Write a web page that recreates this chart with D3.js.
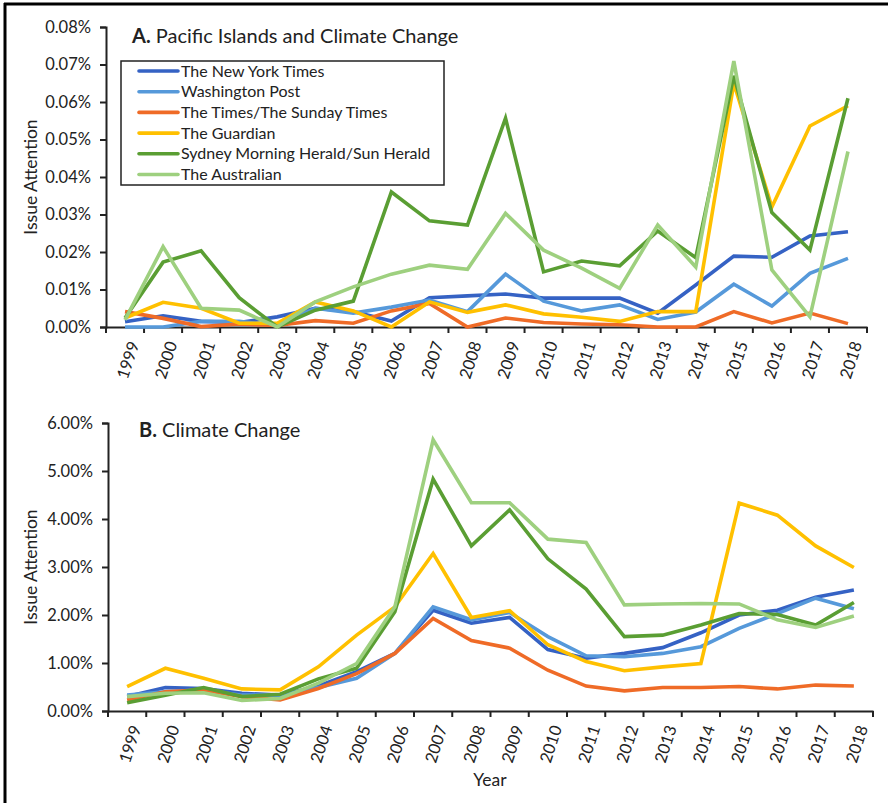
<!DOCTYPE html>
<html>
<head>
<meta charset="utf-8">
<script src="https://cdn.jsdelivr.net/npm/d3@7"></script>
<style>
body{margin:0;background:#fff;}
text{font-family:Lato,"Open Sans",sans-serif;fill:#222;}
</style>
</head>
<body>
<div id="chart"></div>
<script>
var years = ["1999","2000","2001","2002","2003","2004","2005","2006","2007","2008","2009","2010","2011","2012","2013","2014","2015","2016","2017","2018"];
var papers = ["The New York Times","Washington Post","The Times/The Sunday Times","The Guardian","Sydney Morning Herald/Sun Herald","The Australian"];
var colors = ["#3562C4","#5699DA","#EF6B27","#FFC000","#5A9E33","#9ED07F"];

// A. Pacific Islands and Climate Change (percent)
var pacNYT = [0.0014,0.0030,0.0015,0.0012,0.0027,0.0050,0.0041,0.0016,0.0078,0.0083,0.0088,0.0077,0.0077,0.0077,0.0037,0.0112,0.0189,0.0186,0.0243,0.0254];
var pacWaPo = [0.0000,0.0000,0.0015,0.0015,0.0004,0.0050,0.0037,0.0053,0.0072,0.0041,0.0141,0.0069,0.0043,0.0059,0.0020,0.0040,0.0114,0.0056,0.0143,0.0183];
var pacTimes = [0.0041,0.0023,0.0001,0.0008,0.0004,0.0017,0.0010,0.0043,0.0063,0.0000,0.0024,0.0012,0.0008,0.0006,0.0000,0.0000,0.0041,0.0011,0.0037,0.0009];
var pacGuardian = [0.0024,0.0066,0.0050,0.0010,0.0010,0.0067,0.0043,0.0000,0.0067,0.0039,0.0059,0.0035,0.0026,0.0015,0.0041,0.0041,0.0650,0.0320,0.0536,0.0590];
var pacSMH = [0.0024,0.0173,0.0203,0.0078,0.0000,0.0045,0.0069,0.0360,0.0283,0.0272,0.0557,0.0147,0.0176,0.0163,0.0256,0.0185,0.0670,0.0305,0.0205,0.0610];
var pacAus = [0.0019,0.0214,0.0050,0.0045,0.0000,0.0067,0.0107,0.0141,0.0165,0.0154,0.0303,0.0205,0.0157,0.0103,0.0272,0.0160,0.0709,0.0152,0.0027,0.0468];

// B. Climate Change (percent)
var ccNYT = [0.30,0.49,0.47,0.37,0.33,0.52,0.82,1.20,2.10,1.83,1.95,1.28,1.10,1.20,1.32,1.63,2.00,2.10,2.37,2.52];
var ccWaPo = [0.33,0.40,0.44,0.33,0.33,0.49,0.68,1.20,2.17,1.90,2.05,1.55,1.15,1.13,1.20,1.34,1.72,2.03,2.35,2.13];
var ccTimes = [0.23,0.40,0.44,0.30,0.23,0.47,0.78,1.20,1.93,1.47,1.31,0.85,0.52,0.42,0.49,0.49,0.51,0.46,0.54,0.52];
var ccGuardian = [0.51,0.89,0.68,0.46,0.44,0.92,1.58,2.17,3.28,1.95,2.09,1.38,1.03,0.84,0.92,0.99,4.33,4.08,3.44,2.99];
var ccSMH = [0.17,0.33,0.49,0.30,0.35,0.67,0.89,2.07,4.83,3.44,4.19,3.17,2.54,1.55,1.58,1.79,2.03,2.01,1.79,2.26];
var ccAus = [0.30,0.37,0.38,0.22,0.26,0.58,0.99,2.17,5.65,4.34,4.34,3.58,3.51,2.21,2.23,2.24,2.23,1.90,1.74,1.98];

var pacTicks = [0,0.01,0.02,0.03,0.04,0.05,0.06,0.07,0.08];
var ccTicks = [0,1,2,3,4,5,6];

var svg = d3.select("#chart").append("svg").attr("width",888).attr("height",803);

// frame
svg.append("line").attr("x1",4).attr("x2",888).attr("y1",4).attr("y2",4).attr("stroke","#000").attr("stroke-width",3);
svg.append("line").attr("x1",5).attr("x2",5).attr("y1",3).attr("y2",803).attr("stroke","#000").attr("stroke-width",3);

function panel(opts){
	var x = d3.scaleBand().domain(years).range([opts.left,opts.right]);
	var y = d3.scaleLinear().domain([0,opts.max]).range([opts.bottom,opts.top]);
	var g = svg.append("g");

	// y axis
	var ya = g.append("g").attr("transform","translate("+opts.left+",0)")
		.call(d3.axisLeft(y).tickValues(opts.ticks).tickSize(6).tickFormat(function(d){return d.toFixed(2)+"%";}));
	ya.select(".domain").attr("stroke","#222").attr("stroke-width",2);
	ya.selectAll(".tick line").attr("stroke","#222").attr("stroke-width",2);
	ya.selectAll(".tick text").attr("font-size",16.5).attr("x",-15).attr("font-family","Lato,sans-serif").attr("fill","#222");

	// x axis
	var xa = g.append("g").attr("transform","translate(0,"+opts.bottom+")")
		.call(d3.axisBottom(x).tickSize(0).tickSizeOuter(0));
	xa.select(".domain").attr("stroke","#222").attr("stroke-width",2);
	xa.selectAll(".tick text")
		.attr("font-size",16.5).attr("font-family","Lato,sans-serif").attr("fill","#222")
		.attr("text-anchor","end").attr("dy","0.35em")
		.attr("transform","translate(6,14) rotate(-72)");
	var bounds = d3.range(years.length+1).map(function(i){return opts.left + i*x.step();});
	g.selectAll(".xt").data(bounds).enter().append("line")
		.attr("x1",function(d){return d;}).attr("x2",function(d){return d;})
		.attr("y1",opts.bottom).attr("y2",opts.bottom+6)
		.attr("stroke","#222").attr("stroke-width",2);

	// lines
	var line = d3.line()
		.x(function(d,i){return x(years[i]) + x.bandwidth()/2;})
		.y(function(d){return y(d);});
	opts.series.forEach(function(s,i){
		g.append("path").datum(s).attr("d",line)
			.attr("fill","none").attr("stroke",colors[i]).attr("stroke-width",3.6)
			.attr("stroke-linejoin","miter");
	});

	// y label
	g.append("text").attr("transform","translate(37,"+((opts.top+opts.bottom)/2)+") rotate(-90)")
		.attr("text-anchor","middle").attr("font-size",17.5).text("Issue Attention");

	// title
	var t = g.append("text").attr("x",opts.titleX).attr("y",opts.titleY).attr("font-size",20);
	t.append("tspan").attr("font-weight","bold").text(opts.titleA);
	t.append("tspan").text(" "+opts.titleB);
	return {x:x,y:y};
}

panel({left:106,right:867,top:27,bottom:327,max:0.08,ticks:pacTicks,
	series:[pacNYT,pacWaPo,pacTimes,pacGuardian,pacSMH,pacAus],
	titleX:132,titleY:43,titleA:"A.",titleB:"Pacific Islands and Climate Change"});

panel({left:108,right:873,top:423,bottom:711,max:6,ticks:ccTicks,
	series:[ccNYT,ccWaPo,ccTimes,ccGuardian,ccSMH,ccAus],
	titleX:139,titleY:437,titleA:"B.",titleB:"Climate Change"});

// legend
var lg = svg.append("g");
lg.append("rect").attr("x",121).attr("y",61).attr("width",323).attr("height",124)
	.attr("fill","#fff").attr("stroke","#222").attr("stroke-width",1.5);
papers.forEach(function(p,i){
	var yy = 71 + i*20.7;
	lg.append("line").attr("x1",139).attr("x2",178).attr("y1",yy).attr("y2",yy)
		.attr("stroke",colors[i]).attr("stroke-width",3.6).attr("stroke-linecap","round");
	lg.append("text").attr("x",181).attr("y",yy).attr("dy","0.35em").attr("font-size",16).text(p);
});

svg.append("text").attr("x",490).attr("y",786).attr("text-anchor","middle").attr("font-size",17.5).text("Year");
</script>
</body>
</html>
